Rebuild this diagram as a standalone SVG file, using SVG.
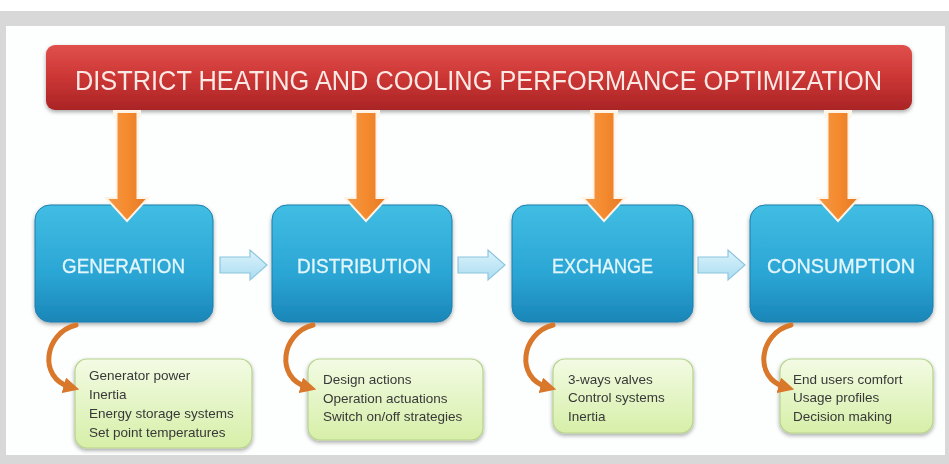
<svg xmlns="http://www.w3.org/2000/svg" width="949" height="464" viewBox="0 0 949 464">
  <defs>
    <linearGradient id="gRed" x1="0" y1="0" x2="0" y2="1">
      <stop offset="0" stop-color="#e0504c"/>
      <stop offset="0.5" stop-color="#cc3634"/>
      <stop offset="1" stop-color="#a92426"/>
    </linearGradient>
    <linearGradient id="gBlue" x1="0" y1="0" x2="0" y2="1">
      <stop offset="0" stop-color="#41bde3"/>
      <stop offset="0.6" stop-color="#2aa5d4"/>
      <stop offset="1" stop-color="#1a86b8"/>
    </linearGradient>
    <linearGradient id="gGreen" x1="0" y1="0" x2="0" y2="1">
      <stop offset="0" stop-color="#f3fbe4"/>
      <stop offset="1" stop-color="#d6efa8"/>
    </linearGradient>
    <linearGradient id="gOrange" x1="0" y1="0" x2="1" y2="0">
      <stop offset="0" stop-color="#f29a4a"/>
      <stop offset="0.5" stop-color="#f58a2e"/>
      <stop offset="1" stop-color="#e27a26"/>
    </linearGradient>
    <linearGradient id="gPale" x1="0" y1="0" x2="0" y2="1">
      <stop offset="0" stop-color="#dcf3fc"/>
      <stop offset="1" stop-color="#aadcf0"/>
    </linearGradient>
    <filter id="shadow" x="-10%" y="-10%" width="120%" height="130%">
      <feGaussianBlur in="SourceAlpha" stdDeviation="2"/>
      <feOffset dy="2" result="b"/>
      <feComponentTransfer><feFuncA type="linear" slope="0.35"/></feComponentTransfer>
      <feMerge><feMergeNode/><feMergeNode in="SourceGraphic"/></feMerge>
    </filter>
    <marker id="curveHead" viewBox="0 0 10 10" refX="4" refY="5" markerWidth="3.2" markerHeight="3.2" orient="auto" markerUnits="strokeWidth">
      <path d="M0 0 L10 5 L0 10 Z" fill="#d9772a"/>
    </marker>
    <path id="downArrow" d="M-10.5 0 H10.5 V86 H21 L0 109 L-21 86 H-10.5 Z"/>
    <path id="sideArrow" d="M0 7 H30 V0 L47 15 L30 30 V23 H0 Z"/>
  </defs>
  <style>
    .banner-text { font-family: "Liberation Sans", Arial, sans-serif; font-size: 27px; fill: #fbe9e6; }
    .stage-text { font-family: "Liberation Sans", Arial, sans-serif; font-size: 21px; fill: #e2f6fc; stroke: #e2f6fc; stroke-width: 0.3; }
    .item-text { font-family: "Liberation Sans", Arial, sans-serif; font-size: 13.5px; fill: #383838; }
    .stage { fill: url(#gBlue); stroke: #1d7fae; stroke-width: 1; }
    .items { fill: url(#gGreen); stroke: #b7d38d; stroke-width: 1.2; }
    .down { fill: url(#gOrange); stroke: #fff3e6; stroke-width: 2; }
    .cap { fill: #fff6ea; }
    .side { fill: url(#gPale); stroke: #8cc6de; stroke-width: 1.2; }
    .curve { fill: none; stroke: #d9772a; stroke-width: 5; stroke-linecap: round; marker-end: url(#curveHead); }
  </style>

  <!-- page frame -->
  <rect x="0" y="0" width="949" height="464" fill="#ffffff"/>
  <rect x="0" y="11" width="949" height="453" fill="#d8d8d8"/>
  <rect x="6" y="26" width="939" height="429" fill="#fdfefe"/>

  <!-- title banner -->
  <g id="banner" filter="url(#shadow)">
    <rect x="46" y="45" width="866" height="65" rx="9" fill="url(#gRed)"/>
    <text class="banner-text" x="75" y="90" textLength="807" lengthAdjust="spacingAndGlyphs">DISTRICT HEATING AND COOLING PERFORMANCE OPTIMIZATION</text>
  </g>

  <!-- stages -->
  <g id="generation" filter="url(#shadow)">
    <rect class="stage" x="35" y="205" width="178" height="117" rx="15"/>
    <text class="stage-text" x="62" y="273" textLength="123" lengthAdjust="spacingAndGlyphs">GENERATION</text>
  </g>
  <g id="distribution" filter="url(#shadow)">
    <rect class="stage" x="272" y="205" width="180" height="117" rx="15"/>
    <text class="stage-text" x="297" y="273" textLength="134" lengthAdjust="spacingAndGlyphs">DISTRIBUTION</text>
  </g>
  <g id="exchange" filter="url(#shadow)">
    <rect class="stage" x="512" y="205" width="181" height="117" rx="15"/>
    <text class="stage-text" x="552" y="273" textLength="101" lengthAdjust="spacingAndGlyphs">EXCHANGE</text>
  </g>
  <g id="consumption" filter="url(#shadow)">
    <rect class="stage" x="750" y="205" width="183" height="117" rx="15"/>
    <text class="stage-text" x="767" y="273" textLength="148" lengthAdjust="spacingAndGlyphs">CONSUMPTION</text>
  </g>

  <!-- detail boxes -->
  <g id="generation-items" filter="url(#shadow)">
    <rect class="items" x="75" y="359" width="177" height="89" rx="12"/>
    <text class="item-text" x="89" y="380">Generator power</text>
    <text class="item-text" x="89" y="399">Inertia</text>
    <text class="item-text" x="89" y="418">Energy storage systems</text>
    <text class="item-text" x="89" y="437">Set point temperatures</text>
  </g>
  <g id="distribution-items" filter="url(#shadow)">
    <rect class="items" x="308" y="359" width="175" height="81" rx="12"/>
    <text class="item-text" x="323" y="384">Design actions</text>
    <text class="item-text" x="323" y="403">Operation actuations</text>
    <text class="item-text" x="323" y="421">Switch on/off strategies</text>
  </g>
  <g id="exchange-items" filter="url(#shadow)">
    <rect class="items" x="553" y="359" width="140" height="74" rx="12"/>
    <text class="item-text" x="568" y="384">3-ways valves</text>
    <text class="item-text" x="568" y="402">Control systems</text>
    <text class="item-text" x="568" y="421">Inertia</text>
  </g>
  <g id="consumption-items" filter="url(#shadow)">
    <rect class="items" x="780" y="359" width="153" height="74" rx="12"/>
    <text class="item-text" x="793" y="384">End users comfort</text>
    <text class="item-text" x="793" y="402">Usage profiles</text>
    <text class="item-text" x="793" y="421">Decision making</text>
  </g>

  <!-- connectors -->
  <g id="connectors">
    <!-- banner to stages -->
    <rect class="cap" x="113" y="110" width="28" height="8"/>
    <use href="#downArrow" class="down" transform="translate(127 112)"/>
    <rect class="cap" x="352" y="110" width="28" height="8"/>
    <use href="#downArrow" class="down" transform="translate(366 112)"/>
    <rect class="cap" x="590" y="110" width="28" height="8"/>
    <use href="#downArrow" class="down" transform="translate(604 112)"/>
    <rect class="cap" x="824" y="110" width="28" height="8"/>
    <use href="#downArrow" class="down" transform="translate(838 112)"/>

    <!-- stage to stage -->
    <use href="#sideArrow" class="side" transform="translate(220 250)"/>
    <use href="#sideArrow" class="side" transform="translate(458 250)"/>
    <use href="#sideArrow" class="side" transform="translate(698 250)"/>

    <!-- stage to detail -->
    <path class="curve" d="M76 325 C44 333 38 378 70 387"/>
    <path class="curve" d="M313 325 C281 333 275 378 307 387"/>
    <path class="curve" d="M553 325 C521 333 515 378 547 387"/>
    <path class="curve" d="M791 325 C759 333 753 378 785 387"/>
  </g>
</svg>
